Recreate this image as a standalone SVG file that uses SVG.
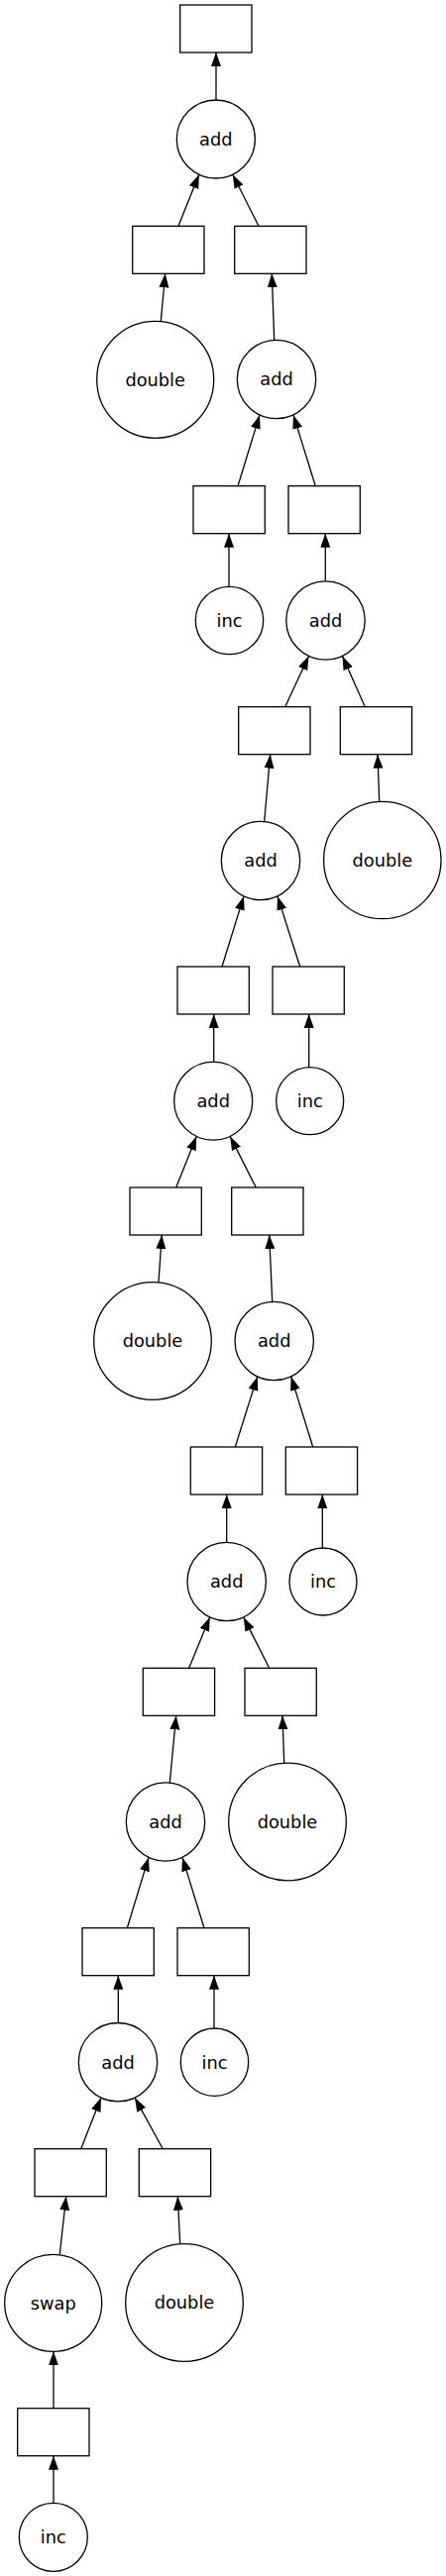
<svg xmlns="http://www.w3.org/2000/svg" width="450" height="2601" viewBox="0 0 450 2601">
<style>
.n rect,.n circle{fill:#fff;stroke:#000;stroke-width:1.3}
.n text{font-family:"DejaVu Sans",sans-serif;font-size:17.8px;text-anchor:middle;fill:#000}
.e line{stroke:#000;stroke-width:1.3;marker-end:url(#ah)}
</style>
<defs>
<marker id="ah" markerUnits="userSpaceOnUse" markerWidth="16" markerHeight="12" viewBox="0 -6 16 12" refX="14" refY="0" orient="auto"><path d="M0,-5 L14,0 L0,5 z" fill="#000"/></marker>
</defs>
<rect width="450" height="2601" fill="#fff"/>
<g id="edges" class="e">
<line x1="218" y1="101" x2="218" y2="53"/>
<line x1="162.3" y1="324.3" x2="166.7" y2="276.3"/>
<line x1="276.7" y1="343.3" x2="274.3" y2="276.3"/>
<line x1="231" y1="592.3" x2="231" y2="538.7"/>
<line x1="328.3" y1="586.7" x2="328.3" y2="538.7"/>
<line x1="266.7" y1="829.3" x2="272.7" y2="761.7"/>
<line x1="382.7" y1="809.3" x2="381" y2="761.7"/>
<line x1="215.7" y1="1072" x2="215.7" y2="1024"/>
<line x1="311.7" y1="1077.7" x2="311.7" y2="1024"/>
<line x1="160" y1="1294.7" x2="163.3" y2="1247"/>
<line x1="274.7" y1="1314.3" x2="271.7" y2="1247"/>
<line x1="228.7" y1="1557.3" x2="228.7" y2="1509"/>
<line x1="325.3" y1="1563" x2="325.3" y2="1509"/>
<line x1="171.3" y1="1800" x2="177.7" y2="1732.3"/>
<line x1="286.7" y1="1780.3" x2="285" y2="1732.3"/>
<line x1="119.3" y1="2042.7" x2="119.3" y2="1994.7"/>
<line x1="216" y1="2048.3" x2="216" y2="1994.7"/>
<line x1="60.3" y1="2276.3" x2="66.7" y2="2217.7"/>
<line x1="181.7" y1="2265.7" x2="179.3" y2="2217.7"/>
<line x1="54" y1="2527.7" x2="54" y2="2479.7"/>
<line x1="54" y1="2431.7" x2="54" y2="2374.3"/>
<line x1="180" y1="228.3" x2="200.8" y2="176.2"/>
<line x1="261" y1="228.3" x2="234.8" y2="176.2"/>
<line x1="240" y1="490.7" x2="262" y2="418.9"/>
<line x1="318.3" y1="490.7" x2="296" y2="418.9"/>
<line x1="287.7" y1="713.7" x2="311.5" y2="662.4"/>
<line x1="368.3" y1="713.7" x2="345.5" y2="662.4"/>
<line x1="224" y1="976" x2="246" y2="904.9"/>
<line x1="302.7" y1="976" x2="280" y2="904.9"/>
<line x1="177.7" y1="1199" x2="198.2" y2="1147.4"/>
<line x1="258.3" y1="1199" x2="232.2" y2="1147.4"/>
<line x1="237.3" y1="1461" x2="259.7" y2="1389.9"/>
<line x1="315.7" y1="1461" x2="293.7" y2="1389.9"/>
<line x1="190.7" y1="1684.3" x2="211.7" y2="1632.9"/>
<line x1="271.7" y1="1684.3" x2="245.7" y2="1632.9"/>
<line x1="128.3" y1="1946.7" x2="150" y2="1875.4"/>
<line x1="206" y1="1946.7" x2="184" y2="1875.4"/>
<line x1="81.7" y1="2169.7" x2="102" y2="2118.1"/>
<line x1="164.3" y1="2169.7" x2="136" y2="2118.1"/>
</g>
<g id="r1" class="n"><rect x="181.7" y="5" width="72.3" height="48"/></g>
<g id="r2" class="n"><rect x="133.7" y="228.3" width="72.3" height="48"/></g>
<g id="r3" class="n"><rect x="236.7" y="228.3" width="72.3" height="48"/></g>
<g id="r4" class="n"><rect x="195" y="490.7" width="72.3" height="48"/></g>
<g id="r5" class="n"><rect x="291" y="490.7" width="72.3" height="48"/></g>
<g id="r6" class="n"><rect x="240.7" y="713.7" width="72.3" height="48"/></g>
<g id="r7" class="n"><rect x="343.3" y="713.7" width="72.3" height="48"/></g>
<g id="r8" class="n"><rect x="179" y="976" width="72.3" height="48"/></g>
<g id="r9" class="n"><rect x="275" y="976" width="72.3" height="48"/></g>
<g id="r10" class="n"><rect x="131" y="1199" width="72.3" height="48"/></g>
<g id="r11" class="n"><rect x="233.7" y="1199" width="72.3" height="48"/></g>
<g id="r12" class="n"><rect x="192.3" y="1461" width="72.3" height="48"/></g>
<g id="r13" class="n"><rect x="288.3" y="1461" width="72.3" height="48"/></g>
<g id="r14" class="n"><rect x="144.3" y="1684.3" width="72.3" height="48"/></g>
<g id="r15" class="n"><rect x="247" y="1684.3" width="72.3" height="48"/></g>
<g id="r16" class="n"><rect x="83" y="1946.7" width="72.3" height="48"/></g>
<g id="r17" class="n"><rect x="179" y="1946.7" width="72.3" height="48"/></g>
<g id="r18" class="n"><rect x="35" y="2169.7" width="72.3" height="48"/></g>
<g id="r19" class="n"><rect x="140.3" y="2169.7" width="72.3" height="48"/></g>
<g id="r20" class="n"><rect x="17.7" y="2431.7" width="72.3" height="48"/></g>
<g id="c1" class="n"><circle cx="217.8" cy="140.5" r="39.5"/><text x="217.8" y="146.8">add</text></g>
<g id="c2" class="n"><circle cx="156.7" cy="383.3" r="59"/><text x="156.7" y="389.6">double</text></g>
<g id="c3" class="n"><circle cx="279" cy="383" r="39.7"/><text x="279" y="389.3">add</text></g>
<g id="c4" class="n"><circle cx="231.5" cy="626.5" r="34.2"/><text x="231.5" y="632.8">inc</text></g>
<g id="c5" class="n"><circle cx="328.5" cy="626.5" r="39.7"/><text x="328.5" y="632.8">add</text></g>
<g id="c6" class="n"><circle cx="263" cy="869" r="39.7"/><text x="263" y="875.3">add</text></g>
<g id="c7" class="n"><circle cx="385.8" cy="868.5" r="59.2"/><text x="385.8" y="874.8">double</text></g>
<g id="c8" class="n"><circle cx="215.2" cy="1111.7" r="39.5"/><text x="215.2" y="1118">add</text></g>
<g id="c9" class="n"><circle cx="312.7" cy="1111.7" r="34"/><text x="312.7" y="1118">inc</text></g>
<g id="c10" class="n"><circle cx="154" cy="1354" r="59.3"/><text x="154" y="1360.3">double</text></g>
<g id="c11" class="n"><circle cx="276.7" cy="1354" r="39.7"/><text x="276.7" y="1360.3">add</text></g>
<g id="c12" class="n"><circle cx="228.7" cy="1597" r="39.7"/><text x="228.7" y="1603.3">add</text></g>
<g id="c13" class="n"><circle cx="326" cy="1597" r="34"/><text x="326" y="1603.3">inc</text></g>
<g id="c14" class="n"><circle cx="167" cy="1839.5" r="39.7"/><text x="167" y="1845.8">add</text></g>
<g id="c15" class="n"><circle cx="290" cy="1839.5" r="59.3"/><text x="290" y="1845.8">double</text></g>
<g id="c16" class="n"><circle cx="119" cy="2082.2" r="39.7"/><text x="119" y="2088.5">add</text></g>
<g id="c17" class="n"><circle cx="216.5" cy="2082.2" r="34.2"/><text x="216.5" y="2088.5">inc</text></g>
<g id="c18" class="n"><circle cx="53.7" cy="2325.3" r="49"/><text x="53.7" y="2331.6">swap</text></g>
<g id="c19" class="n"><circle cx="186" cy="2325" r="59.3"/><text x="186" y="2331.3">double</text></g>
<g id="c20" class="n"><circle cx="53.8" cy="2561.8" r="34.5"/><text x="53.8" y="2568.1">inc</text></g>
</svg>
